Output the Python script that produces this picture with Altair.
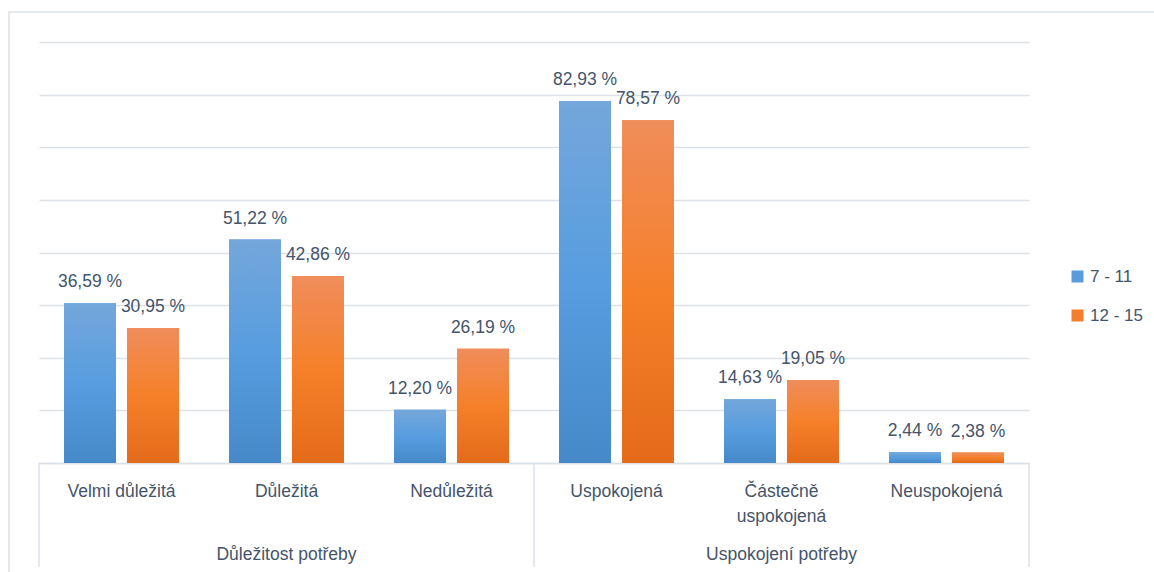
import altair as alt
import pandas as pd

# Categories along the x axis and the group each belongs to
categories = ["Velmi důležitá", "Důležitá", "Nedůležitá",
              "Uspokojená", "Částečně uspokojená", "Neuspokojená"]
groups = ["Důležitost potřeby"] * 3 + ["Uspokojení potřeby"] * 3
group_names = ["Důležitost potřeby", "Uspokojení potřeby"]
group_centers = ["Důležitá", "Částečně uspokojená"]

# Age groups and their shares (%)
series = ["7 - 11", "12 - 15"]
values_7_11 = [36.59, 51.22, 12.20, 82.93, 14.63, 2.44]
values_12_15 = [30.95, 42.86, 26.19, 78.57, 19.05, 2.38]

FONT = "Liberation Sans, Arial, sans-serif"
FS = 17.5
TEXT = "#44546A"
GRID = "#DCE1E8"
W, H = 990, 421
YMAX = 96.5

rows = []
for s, vals in zip(series, [values_7_11, values_12_15]):
    for c, g, v in zip(categories, groups, vals):
        rows.append({"category": c, "group": g, "series": s, "value": v,
                     "label": f"{v:.2f}".replace(".", ",") + " %"})
df = pd.DataFrame(rows)

grad_blue = {"gradient": "linear", "x1": 0, "y1": 0, "x2": 0, "y2": 1,
             "stops": [{"offset": 0, "color": "#74A7DB"},
                       {"offset": 0.5, "color": "#579DDF"},
                       {"offset": 1, "color": "#4589C8"}]}
grad_orange = {"gradient": "linear", "x1": 0, "y1": 0, "x2": 0, "y2": 1,
               "stops": [{"offset": 0, "color": "#F08D5B"},
                         {"offset": 0.5, "color": "#F58029"},
                         {"offset": 1, "color": "#E36B1A"}]}

x_enc = alt.X("category:N", sort=categories,
              scale=alt.Scale(domain=categories, paddingInner=0, paddingOuter=0),
              axis=alt.Axis(title=None, ticks=False, domain=True, domainColor=GRID,
                            domainWidth=1.5, labelAngle=0, labelFont=FONT,
                            labelFontSize=FS, labelColor=TEXT, labelPadding=19,
                            labelLineHeight=25, labelLimit=300,
                            labelExpr="length(datum.label) > 16 ? split(datum.label, ' ') : datum.label"))
xoff = alt.XOffset("series:N", sort=series,
                   scale=alt.Scale(domain=series, paddingInner=0.1746, paddingOuter=0.397))
y_enc = alt.Y("value:Q", stack=None,
              scale=alt.Scale(domain=[0, YMAX], nice=False, zero=True),
              axis=alt.Axis(title=None, labels=False, ticks=False, domain=False,
                            grid=True, gridColor=GRID, gridWidth=1.5,
                            values=[YMAX * i / 8 for i in range(9)]))

base = alt.Chart(df)

bars_solid = base.mark_bar().encode(
    x=x_enc, xOffset=xoff, y=y_enc,
    color=alt.Color("series:N", sort=series,
                    scale=alt.Scale(domain=series, range=["#5A9BDB", "#F27F2E"]),
                    legend=alt.Legend(title=None, orient="none", legendX=1030, legendY=226,
                                      symbolType="square", symbolSize=144,
                                      symbolStrokeWidth=0, labelFont=FONT,
                                      labelFontSize=17, labelColor=TEXT,
                                      labelOffset=4, rowPadding=21, padding=0)),
)

bars_grad = base.mark_bar().encode(
    x=x_enc, xOffset=xoff, y=y_enc,
    fill=alt.condition(alt.datum.series == series[0],
                       alt.value(grad_blue), alt.value(grad_orange)),
)

labels = base.mark_text(baseline="alphabetic", dy=-16, font=FONT,
                        fontSize=FS, color=TEXT).encode(
    x=x_enc, xOffset=xoff, y=y_enc, text="label:N")

# Group captions under the category labels
gdf = pd.DataFrame({"group": group_names, "center": group_centers})
group_text = alt.Chart(gdf).mark_text(baseline="alphabetic", font=FONT,
                                      fontSize=FS, color=TEXT).encode(
    x=alt.X("center:N", sort=categories), y=alt.value(H + 97), text="group:N")

# Vertical separators between groups
sdf = pd.DataFrame({"start": ["Velmi důležitá", "Uspokojená"]})
sep_left = alt.Chart(sdf).mark_rule(color=GRID, strokeWidth=1.5).encode(
    x=alt.X("start:N", sort=categories, bandPosition=0),
    y=alt.value(H), y2=alt.value(H + 104))
edf = pd.DataFrame({"end": ["Neuspokojená"]})
sep_right = alt.Chart(edf).mark_rule(color=GRID, strokeWidth=1.5).encode(
    x=alt.X("end:N", sort=categories, bandPosition=1),
    y=alt.value(H), y2=alt.value(H + 104))

# Outer frame of the chart
frame = alt.Chart(pd.DataFrame({"f": [0]})).mark_rect(
    fill=None, stroke=GRID, strokeWidth=1.5).encode(
    x=alt.value(-30), x2=alt.value(W + 200), y=alt.value(-30), y2=alt.value(H + 200))

chart = alt.layer(frame, bars_solid, bars_grad, labels, group_text, sep_left, sep_right).properties(
    width=W, height=H,
    autosize=alt.AutoSizeParams(type="none"),
    padding={"left": 39, "top": 42, "right": 125, "bottom": 109},
    background="white",
).configure_view(stroke=None)

chart.save("out.html", embed_options={"renderer": "svg", "actions": False})
